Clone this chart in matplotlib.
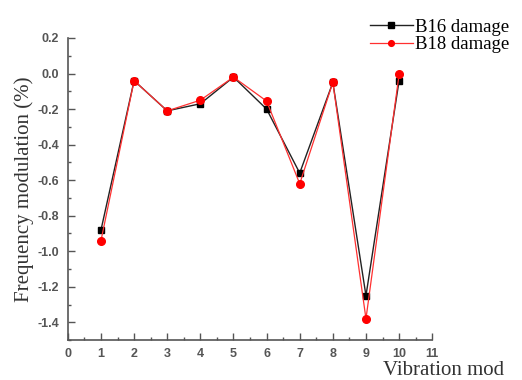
import matplotlib
matplotlib.use("Agg")
import matplotlib.pyplot as plt
from matplotlib.ticker import MultipleLocator, FuncFormatter

modes = [1, 2, 3, 4, 5, 6, 7, 8, 9, 10]
b16_damage = [-0.88, -0.04, -0.21, -0.17, -0.02, -0.20, -0.56, -0.05, -1.25, -0.04]
b18_damage = [-0.94, -0.04, -0.21, -0.15, -0.02, -0.155, -0.62, -0.05, -1.38, -0.005]

fig = plt.figure(figsize=(5.22, 3.80), dpi=100)
ax = fig.add_axes([0.130, 0.105, 0.698, 0.795])

ax.plot(modes, b16_damage, color="#222222", lw=1.0, marker="s", ms=5,
        mfc="black", mec="black", label="B16 damage", zorder=3)
ax.plot(modes, b18_damage, color="#ff3030", lw=0.9, marker="o", ms=5.5,
        mfc="red", mec="red", label="B18 damage", zorder=4)

ax.set_xlim(0, 11)
ax.set_ylim(-1.5, 0.2)
ax.xaxis.set_major_locator(MultipleLocator(1))
ax.xaxis.set_minor_locator(MultipleLocator(0.5))
ax.yaxis.set_major_locator(MultipleLocator(0.2))
ax.yaxis.set_minor_locator(MultipleLocator(0.1))
ax.yaxis.set_major_formatter(FuncFormatter(lambda v, p: f"{v:.1f}"))

for s in ("top", "right"):
    ax.spines[s].set_visible(False)
for s in ("left", "bottom"):
    ax.spines[s].set_color("#555555")
    ax.spines[s].set_linewidth(1.2)

ax.tick_params(which="both", direction="in", color="#555555", width=1.0,
               labelsize=9, labelcolor="#555555")
ax.tick_params(which="major", length=5)
ax.tick_params(which="minor", length=2.5)
ax.tick_params(axis="y", which="major", pad=6.5)
ax.tick_params(axis="x", which="major", pad=5.5)
for lab in ax.get_xticklabels() + ax.get_yticklabels():
    lab.set_fontfamily("Liberation Sans")
    lab.set_fontweight("bold")

ax.set_ylabel("Frequency modulation (%)", fontfamily="Liberation Serif",
              fontsize=15, color="#333333", labelpad=2)
fig.text(0.733, 0.013, "Vibration mod", fontfamily="Liberation Serif",
         fontsize=15, color="#333333", ha="left", va="baseline")

leg = fig.legend(loc="upper left", bbox_to_anchor=(0.683, 0.985), frameon=False,
                 prop={"family": "Liberation Serif", "size": 13.5},
                 handlelength=2.3, handletextpad=0.1, labelspacing=0.02,
                 markerscale=0.75, borderaxespad=0.3)

fig.savefig("out.png", dpi=100)
